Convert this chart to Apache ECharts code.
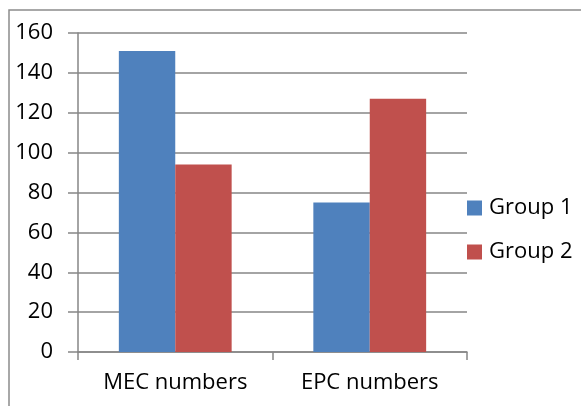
<!DOCTYPE html>
<html>
<head>
<meta charset="utf-8">
<script src="https://cdn.jsdelivr.net/npm/echarts@6/dist/echarts.min.js"></script>
<style>
  html, body { margin: 0; padding: 0; background: #fff; }
  #chart { width: 581px; height: 406px; }
</style>
</head>
<body>
<div id="chart"></div>
<script>
var categories = ['MEC numbers', 'EPC numbers']
var group1 = [151, 75]
var group2 = [94, 127]
var seriesNames = ['Group 1', 'Group 2']

var chart = echarts.init(document.getElementById('chart'))
var fontFamily = 'Open Sans, Liberation Sans, sans-serif'
var lineColor = '#868686'

var option = {
  backgroundColor: '#fff',
  animation: false,
  graphic: [{
    type: 'rect',
    shape: { x: 9, y: 10, width: 590, height: 420 },
    style: { fill: 'none', stroke: '#8c8c8c', lineWidth: 1.5 },
    silent: true
  }],
  legend: {
    orient: 'vertical',
    left: 467,
    top: 197,
    padding: 0,
    itemWidth: 15,
    itemHeight: 15,
    itemGap: 22,
    icon: 'rect',
    textStyle: { fontFamily: fontFamily, fontSize: 22, lineHeight: 15, color: '#000', padding: [0, 0, 0, 2] },
    data: seriesNames
  },
  grid: {
    left: 78,
    top: 33,
    width: 389,
    height: 319
  },
  xAxis: {
    type: 'category',
    data: categories,
    axisLine: { lineStyle: { color: lineColor, width: 1.5 } },
    axisTick: { show: true, length: 8, alignWithLabel: false, lineStyle: { color: lineColor, width: 1.5 } },
    axisLabel: { fontFamily: fontFamily, fontSize: 22, color: '#000', margin: 20 }
  },
  yAxis: {
    type: 'value',
    min: 0,
    max: 160,
    interval: 20,
    axisLine: { show: true, lineStyle: { color: lineColor, width: 1.5 } },
    axisTick: { show: true, inside: false, length: 10, lineStyle: { color: lineColor, width: 1.5 } },
    axisLabel: { fontFamily: fontFamily, fontSize: 22, color: '#000', margin: 25 },
    splitLine: { show: true, lineStyle: { color: lineColor, width: 1.5 } }
  },
  series: [
    {
      name: seriesNames[0],
      type: 'bar',
      data: group1,
      barGap: '0%',
      barCategoryGap: '42%',
      itemStyle: { color: '#4f81bd' }
    },
    {
      name: seriesNames[1],
      type: 'bar',
      data: group2,
      itemStyle: { color: '#c0504d' }
    }
  ]
}
chart.setOption(option)
</script>
</body>
</html>
